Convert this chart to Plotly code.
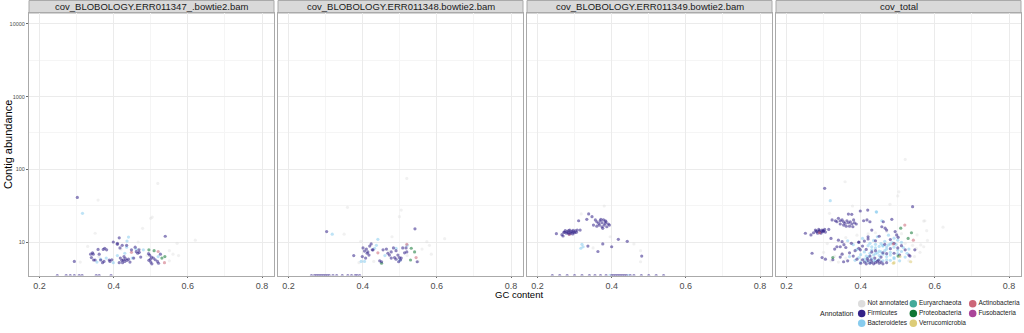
import plotly.graph_objects as go

W, H = 1024, 333

# ---------------- categories / labels ----------------
panel_titles = ["cov_BLOBOLOGY.ERR011347_.bowtie2.bam",
                "cov_BLOBOLOGY.ERR011348.bowtie2.bam",
                "cov_BLOBOLOGY.ERR011349.bowtie2.bam",
                "cov_total"]
annotation_names = ["Not annotated", "Firmicutes", "Bacteroidetes",
                    "Euryarchaeota", "Proteobacteria", "Verrucomicrobia",
                    "Actinobacteria", "Fusobacteria"]
annotation_colors = ["#DDDDDD", "#332288", "#88CCEE", "#44AA99",
                     "#117733", "#DDCC77", "#CC6677", "#AA4499"]
x_ticks = [0.2, 0.4, 0.6, 0.8]
x_tick_labels = ["0.2", "0.4", "0.6", "0.8"]
y_ticks = [10, 100, 1000, 10000]
y_tick_labels = ["10", "100", "1000", "10000"]

# ---------------- data: (GC content, contig abundance) ----------------
# panel 1: ERR011347
p1_not = [(0.358, 37.8), (0.50, 21.2), (0.504, 22), (0.478, 15.4), (0.35, 13.2), (0.62, 10.6),
          (0.571, 9.6), (0.55, 7.6), (0.575, 6.5), (0.56, 6.8), (0.33, 8.7), (0.31, 5.3),
          (0.47, 8.0), (0.49, 6.5), (0.36, 6.3), (0.42, 8.0), (0.55, 5.5), (0.519, 64), (0.466, 10.0)]
p1_firm = [(0.302, 41), (0.539, 12), (0.415, 11.4), (0.399, 10), (0.41, 9.6), (0.410, 9.3),
           (0.423, 9.0), (0.417, 8.3), (0.435, 9.0), (0.458, 8.5), (0.376, 8.2), (0.358, 7.9),
           (0.372, 7.9), (0.381, 7.8), (0.343, 7.1), (0.345, 6.8), (0.338, 6.8), (0.361, 6.8),
           (0.340, 6.1), (0.346, 5.65), (0.350, 5.65), (0.294, 5.4), (0.370, 5.2), (0.374, 5.4),
           (0.365, 5.65), (0.388, 5.65), (0.390, 5.4), (0.395, 5.7), (0.418, 6.0), (0.422, 5.6),
           (0.426, 5.7), (0.430, 5.4), (0.415, 5.2), (0.436, 5.6), (0.440, 5.8), (0.444, 5.3),
           (0.424, 5.2), (0.428, 6.3), (0.432, 5.9), (0.448, 7.8), (0.468, 7.8), (0.454, 6.0),
           (0.473, 6.2), (0.461, 7.35), (0.465, 7.0), (0.469, 7.2), (0.497, 6.6), (0.502, 6.2),
           (0.507, 6.0), (0.495, 5.6), (0.500, 5.3), (0.503, 5.0), (0.512, 5.7), (0.518, 5.4),
           (0.521, 5.1), (0.499, 5.8), (0.494, 6.9), (0.526, 6.8),
           (0.248, 3.46), (0.272, 3.46), (0.283, 3.46), (0.294, 3.46), (0.307, 3.46), (0.315, 3.46),
           (0.353, 3.46), (0.361, 3.46), (0.393, 3.46)]
p1_bact = [(0.316, 24.8), (0.436, 10.3), (0.440, 11.7), (0.365, 5.8), (0.399, 5.2), (0.46, 8.0),
           (0.48, 7.8), (0.43, 7.0), (0.38, 6.0), (0.355, 5.3), (0.41, 6.5), (0.52, 6.3),
           (0.45, 6.0), (0.435, 8.5)]
p1_prot = [(0.495, 7.8), (0.509, 7.6), (0.538, 6.3), (0.53, 6.0)]
p1_actino = [(0.537, 5.2), (0.448, 7.2), (0.52, 7.4)]

# panel 2: ERR011348
p2_not = [(0.519, 75), (0.359, 30), (0.504, 27.5), (0.499, 22.3), (0.35, 12.8), (0.479, 11.8),
          (0.621, 11.1), (0.573, 10.1), (0.56, 8.0), (0.585, 6.8), (0.58, 9.0), (0.47, 7.5),
          (0.52, 6.5), (0.43, 5.4), (0.39, 5.2), (0.55, 5.4), (0.395, 10.2)]
p2_firm = [(0.303, 13.9), (0.541, 15.2), (0.423, 9.4), (0.419, 8.8), (0.426, 7.8), (0.401, 8.3),
           (0.405, 7.5), (0.414, 7.3), (0.412, 7.0), (0.417, 6.6), (0.399, 6.3), (0.408, 6.0),
           (0.455, 7.8), (0.464, 8.0), (0.468, 7.0), (0.472, 6.6), (0.477, 7.3), (0.483, 8.3),
           (0.486, 6.1), (0.49, 5.8), (0.495, 6.6), (0.499, 6.1), (0.504, 6.0), (0.502, 5.65),
           (0.497, 5.35), (0.508, 8.3), (0.517, 8.3), (0.519, 7.3), (0.513, 7.1), (0.547, 5.35),
           (0.376, 6.5), (0.446, 5.5), (0.451, 5.35), (0.428, 7.8), (0.41, 8.0), (0.477, 6.0),
           (0.49, 7.6),
           (0.262, 3.46), (0.27, 3.46), (0.275, 3.46), (0.28, 3.46), (0.285, 3.46), (0.29, 3.46),
           (0.295, 3.46), (0.30, 3.46), (0.305, 3.46), (0.31, 3.46), (0.32, 3.46), (0.33, 3.46),
           (0.345, 3.46), (0.36, 3.46), (0.37, 3.46), (0.38, 3.46), (0.385, 3.46), (0.392, 3.46)]
p2_bact = [(0.318, 12.8), (0.441, 10.9), (0.437, 9.0), (0.432, 8.2), (0.396, 5.4), (0.405, 5.4),
           (0.46, 6.5), (0.49, 8.2), (0.52, 9.0), (0.5, 5.6)]
p2_prot = [(0.531, 8.2), (0.54, 7.3), (0.529, 5.65), (0.451, 5.1)]
p2_actino = [(0.441, 7.1), (0.519, 9.3), (0.544, 6.1)]

# panel 3: ERR011349
p3_not = [(0.38, 31.3), (0.318, 24.3), (0.396, 11.8), (0.46, 9.4), (0.35, 8.3), (0.478, 7.6),
          (0.478, 5.35)]
p3_firm = [(0.251, 13.0), (0.266, 12.6), (0.271, 13.6), (0.275, 14.3), (0.28, 13.9), (0.282, 13.4),
           (0.284, 14.3), (0.287, 14.6), (0.289, 13.7), (0.29, 13.2), (0.293, 14.0), (0.296, 14.5),
           (0.297, 13.7), (0.30, 13.4), (0.302, 14.2), (0.305, 13.6), (0.278, 13.2), (0.285, 12.9),
           (0.295, 12.9), (0.307, 14.6), (0.315, 14.6), (0.273, 13.7), (0.269, 12.1),
           (0.356, 20.1), (0.36, 19.0), (0.365, 18.1), (0.369, 19.6), (0.374, 18.4), (0.378, 20.1),
           (0.38, 17.1), (0.383, 18.1), (0.385, 19.0), (0.387, 16.2), (0.391, 17.7), (0.394, 17.1),
           (0.36, 16.5), (0.367, 17.1), (0.374, 16.2), (0.351, 17.1), (0.376, 15.4), (0.383, 19.6),
           (0.371, 20.5), (0.333, 20.5),
           (0.338, 24.3), (0.347, 22.3), (0.311, 19.6), (0.418, 10.9), (0.442, 10.2), (0.376, 9.4),
           (0.40, 8.6), (0.336, 8.8), (0.363, 7.4), (0.481, 6.4),
           (0.24, 3.46), (0.26, 3.46), (0.28, 3.46), (0.30, 3.46), (0.32, 3.46), (0.34, 3.46),
           (0.355, 3.46), (0.37, 3.46), (0.385, 3.46), (0.40, 3.46), (0.405, 3.46), (0.41, 3.46),
           (0.415, 3.46), (0.42, 3.46), (0.425, 3.46), (0.43, 3.46), (0.435, 3.46), (0.44, 3.46),
           (0.45, 3.46), (0.46, 3.46), (0.48, 3.46), (0.50, 3.46), (0.52, 3.46), (0.54, 3.46)]
p3_bact = [(0.32, 9.3), (0.323, 8.6), (0.317, 8.2), (0.395, 3.46), (0.445, 3.46)]
p3_actino = [(0.286, 12.7)]

# panel 4: total
p4_not = [(0.52, 137), (0.503, 49), (0.50, 43), (0.479, 33), (0.622, 16), (0.573, 19.6),
          (0.578, 14.3), (0.562, 9.1), (0.552, 12.5), (0.358, 67.5), (0.378, 31.3), (0.57, 19.4),
          (0.316, 24.8), (0.35, 7.0), (0.33, 6.4), (0.32, 5.5), (0.34, 5.3), (0.36, 6.0),
          (0.54, 9.0), (0.55, 8.1), (0.56, 7.2), (0.545, 6.3), (0.53, 5.5), (0.52, 9.6),
          (0.5, 12.0), (0.42, 12.9), (0.39, 12.4), (0.36, 11.5), (0.31, 9.5), (0.3, 7.2),
          (0.58, 10.5), (0.57, 8.6), (0.47, 14.0), (0.51, 13.0), (0.44, 13.4)]
p4_firm = [(0.303, 54.8), (0.399, 26.7), (0.419, 27.5), (0.376, 24), (0.367, 24.2),
           (0.34, 21.2), (0.345, 19.6), (0.35, 20.1), (0.354, 19.0), (0.358, 18.1), (0.363, 19.6),
           (0.367, 18.4), (0.372, 19.0), (0.376, 17.7), (0.381, 20.1), (0.383, 18.4), (0.37, 16.5),
           (0.361, 16.5), (0.354, 17.1), (0.345, 17.7), (0.379, 16.2), (0.388, 17.7), (0.336, 19.0),
           (0.332, 19.6), (0.323, 20.1), (0.408, 19.6), (0.417, 20.1), (0.425, 19.0),
           (0.278, 14.6), (0.282, 13.9), (0.287, 14.9), (0.289, 14.3), (0.291, 13.6), (0.296, 14.6),
           (0.299, 13.9), (0.30, 14.3), (0.303, 14.9), (0.305, 13.7), (0.284, 13.2), (0.293, 13.2),
           (0.273, 13.4), (0.251, 13.2), (0.266, 12.5), (0.314, 14.9), (0.28, 14.1), (0.288, 14.0),
           (0.297, 14.1),
           (0.32, 11.2), (0.34, 10.6), (0.35, 10.1), (0.345, 8.6), (0.336, 8.6), (0.269, 7.0),
           (0.296, 6.1), (0.305, 5.8), (0.354, 5.35), (0.399, 7.8), (0.395, 10.0), (0.42, 11.8),
           (0.43, 14.6), (0.54, 30.6), (0.484, 20.5), (0.546, 7.8), (0.533, 6.4), (0.461, 19),
           (0.466, 15.5), (0.47, 14.6), (0.457, 16.2), (0.497, 12.5), (0.501, 11.6), (0.493, 13.9),
           (0.40, 5.1), (0.41, 5.3), (0.415, 5.0), (0.42, 5.5), (0.425, 5.1), (0.43, 5.3),
           (0.435, 5.0), (0.44, 5.2), (0.445, 5.4), (0.45, 5.1), (0.455, 5.3), (0.46, 5.0),
           (0.47, 5.2), (0.405, 5.7), (0.418, 5.9), (0.428, 5.7), (0.438, 6.0), (0.448, 5.6),
           (0.39, 5.8), (0.38, 6.4), (0.37, 7.1), (0.385, 7.6), (0.395, 8.2), (0.405, 8.8),
           (0.415, 7.9), (0.43, 7.3), (0.44, 7.6), (0.46, 7.1), (0.47, 6.9), (0.48, 8.1),
           (0.49, 7.0), (0.50, 8.3), (0.505, 6.6), (0.36, 8.4), (0.35, 6.8), (0.375, 9.6),
           (0.395, 9.9), (0.41, 10.3), (0.42, 11.0), (0.44, 10.4), (0.45, 12.0), (0.48, 10.8),
           (0.49, 9.6), (0.51, 8.9), (0.52, 7.8), (0.53, 6.6), (0.425, 6.4), (0.455, 6.2),
           (0.465, 9.3), (0.365, 5.5), (0.325, 5.7), (0.345, 6.2), (0.33, 8.0), (0.355, 9.2)]
p4_bact = [(0.318, 37), (0.442, 26), (0.443, 25.8), (0.457, 19.6),
           (0.43, 7.8), (0.44, 8.3), (0.45, 7.5), (0.46, 8.8), (0.47, 8.0), (0.48, 7.2), (0.49, 8.5),
           (0.50, 7.7), (0.455, 9.5), (0.465, 10.2), (0.475, 9.1), (0.485, 9.8), (0.495, 9.3),
           (0.44, 6.9), (0.45, 6.5), (0.46, 6.8), (0.47, 6.3), (0.48, 6.6), (0.49, 6.1), (0.50, 6.9),
           (0.51, 7.4), (0.42, 6.2), (0.43, 5.9), (0.44, 5.6), (0.45, 5.8), (0.46, 5.5), (0.47, 5.7),
           (0.415, 5.4), (0.425, 5.2), (0.435, 5.5), (0.41, 7.3), (0.42, 8.9), (0.40, 6.7),
           (0.39, 7.9), (0.38, 9.2), (0.37, 6.3), (0.365, 10.4), (0.405, 11.2), (0.445, 11.8),
           (0.475, 12.4), (0.435, 10.5), (0.425, 9.6), (0.515, 8.4), (0.52, 6.2), (0.505, 5.5),
           (0.445, 7.1), (0.455, 7.3), (0.465, 7.6), (0.435, 6.6), (0.425, 7.0), (0.415, 6.4),
           (0.48, 5.6), (0.49, 5.9), (0.46, 9.0), (0.47, 8.6), (0.48, 9.4), (0.44, 9.3), (0.45, 8.7),
           (0.43, 8.6), (0.4, 5.3), (0.41, 5.8), (0.385, 5.6), (0.395, 6.1), (0.5, 10.6),
           (0.49, 11.3), (0.51, 9.9), (0.53, 8.0), (0.525, 7.0)]
p4_prot = [(0.508, 15.5), (0.537, 13.4), (0.528, 11.2), (0.325, 6.1), (0.501, 6.4)]
p4_verruco = [(0.535, 5.35), (0.506, 6.3), (0.488, 5.1), (0.49, 5.2)]
p4_actino = [(0.519, 17.1), (0.542, 10.6), (0.289, 13.4), (0.488, 9.4)]

panel_data = [
    {"Not annotated": p1_not, "Bacteroidetes": p1_bact, "Proteobacteria": p1_prot,
     "Actinobacteria": p1_actino, "Firmicutes": p1_firm},
    {"Not annotated": p2_not, "Bacteroidetes": p2_bact, "Proteobacteria": p2_prot,
     "Actinobacteria": p2_actino, "Firmicutes": p2_firm},
    {"Not annotated": p3_not, "Bacteroidetes": p3_bact, "Actinobacteria": p3_actino,
     "Firmicutes": p3_firm},
    {"Not annotated": p4_not, "Bacteroidetes": p4_bact, "Firmicutes": p4_firm,
     "Proteobacteria": p4_prot, "Verrucomicrobia": p4_verruco, "Actinobacteria": p4_actino},
]

color_of = dict(zip(annotation_names, annotation_colors))

# ---------------- geometry (pixels) ----------------
panel_left = [29.0, 278.0, 527.0, 776.0]
panel_w = 245.0
plot_top, plot_bottom = 13.0, 275.5
x_range = [0.1718, 0.8322]
y_range_log = [0.539, 4.151]

fig = go.Figure()
FONT = "Liberation Sans, Arial, sans-serif"
LINE = "#aaaaaa"

for i, pdata in enumerate(panel_data):
    ax = "" if i == 0 else str(i + 1)
    for name, pts in pdata.items():
        alpha = 0.4 if name == "Not annotated" else 0.55
        fig.add_trace(go.Scatter(
            x=[p[0] for p in pts], y=[p[1] for p in pts],
            mode="markers", name=name, showlegend=False,
            xaxis="x" + ax, yaxis="y" + ax, cliponaxis=True,
            marker=dict(size=3.2, color=color_of[name], opacity=alpha,
                        line=dict(width=0)),
        ))

layout = dict(
    width=W, height=H, margin=dict(l=0, r=0, t=0, b=0),
    paper_bgcolor="white", plot_bgcolor="white",
    font=dict(family=FONT, color="#1a1a1a"),
    showlegend=False,
)
ydom = [1 - plot_bottom / H, 1 - plot_top / H]
shapes, annots = [], []
for i in range(4):
    ax = "" if i == 0 else str(i + 1)
    x0 = panel_left[i] / W
    x1 = (panel_left[i] + panel_w) / W
    layout["xaxis" + ax] = dict(
        domain=[x0, x1], range=x_range, tickvals=x_ticks, ticktext=x_tick_labels,
        showgrid=True, gridcolor="#ebebeb", gridwidth=1, zeroline=False,
        showline=True, mirror=True, linecolor=LINE, linewidth=1,
        ticks="outside", ticklen=1.5, tickcolor="#666666", tickwidth=0.8,
        tickfont=dict(size=9, color="#4d4d4d", family=FONT),
        minor=dict(tickvals=[0.3, 0.5, 0.7], showgrid=True, gridcolor="#f5f5f5",
                   gridwidth=0.6, ticks=""),
        anchor="y" + ax, fixedrange=True,
    )
    layout["yaxis" + ax] = dict(
        domain=ydom, type="log", range=y_range_log, tickvals=y_ticks,
        ticktext=y_tick_labels, showticklabels=(i == 0),
        showgrid=True, gridcolor="#ebebeb", gridwidth=1, zeroline=False,
        showline=True, mirror=True, linecolor=LINE, linewidth=1,
        ticks="outside" if i == 0 else "", ticklen=2, tickcolor="#666666", tickwidth=0.8,
        tickfont=dict(size=5.5, color="#4d4d4d", family=FONT),
        minor=dict(tickvals=[10 ** 1.5, 10 ** 2.5, 10 ** 3.5], showgrid=True,
                   gridcolor="#f5f5f5", gridwidth=0.6, ticks=""),
        anchor="x" + ax, fixedrange=True,
    )
    # facet strip
    shapes.append(dict(type="rect", xref="paper", yref="paper",
                       x0=x0, x1=x1, y0=1 - plot_top / H, y1=1 - 0.5 / H,
                       fillcolor="#d9d9d9", line=dict(color=LINE, width=1), layer="below"))
    annots.append(dict(xref="paper", yref="paper", x=(x0 + x1) / 2, y=1 - 6.5 / H,
                       text=panel_titles[i], showarrow=False, xanchor="center", yanchor="middle",
                       font=dict(size=9.5, color="#1a1a1a", family=FONT)))

# axis titles
annots.append(dict(xref="paper", yref="paper", x=8 / W, y=1 - 145 / H, text="Contig abundance",
                   textangle=-90, showarrow=False, xanchor="center", yanchor="middle",
                   font=dict(size=11, color="#000000", family=FONT)))
annots.append(dict(xref="paper", yref="paper", x=519 / W, y=1 - 294.5 / H, text="GC content",
                   showarrow=False, xanchor="center", yanchor="middle",
                   font=dict(size=9.5, color="#000000", family=FONT)))

# ---------------- legend (drawn on a hidden pixel-unit axis) ----------------
legend_col_x = [861.7, 913.3, 972.7]
legend_row_y = [303.8, 313.6, 323.3]
leg_x, leg_y = [], []
for k in range(len(annotation_names)):
    leg_x.append(legend_col_x[k // 3])
    leg_y.append(legend_row_y[k % 3])
fig.add_trace(go.Scatter(
    x=leg_x, y=leg_y, mode="markers+text", text=annotation_names,
    textposition="middle right", xaxis="x5", yaxis="y5", showlegend=False,
    cliponaxis=False,
    textfont=dict(size=6.5, color="#1a1a1a", family=FONT),
    marker=dict(size=7.5, color=annotation_colors, line=dict(width=0)),
))
layout["xaxis5"] = dict(domain=[800 / W, 1], range=[800, 1024], visible=False, fixedrange=True,
                        anchor="y5")
layout["yaxis5"] = dict(domain=[0, 40 / H], range=[333, 293], visible=False, fixedrange=True,
                        anchor="x5")
annots.append(dict(xref="paper", yref="paper", x=855.5 / W, y=1 - 313.8 / H, text="Annotation",
                   showarrow=False, xanchor="right", yanchor="middle",
                   font=dict(size=7, color="#1a1a1a", family=FONT)))

layout["shapes"] = shapes
layout["annotations"] = annots
fig.update_layout(**layout)
fig.write_html("out.html")
